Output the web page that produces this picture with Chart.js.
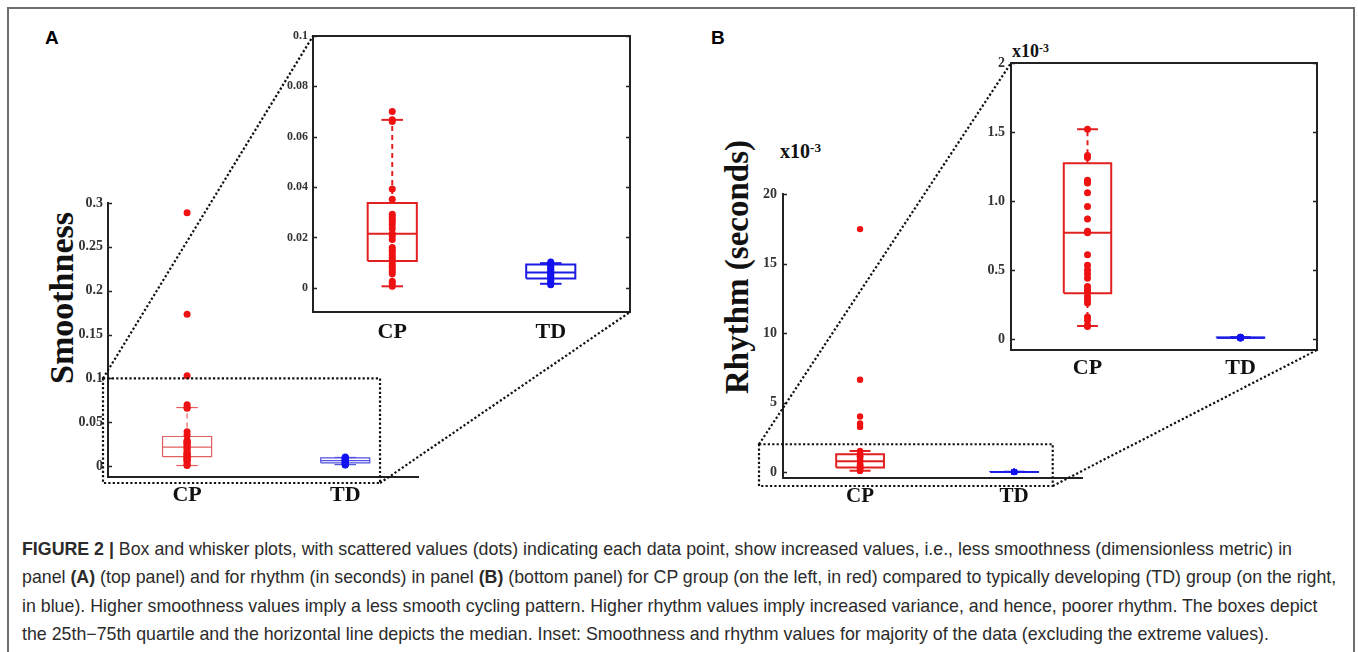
<!DOCTYPE html>
<html><head><meta charset="utf-8">
<script src="https://cdn.jsdelivr.net/npm/chart.js@4.4.1/dist/chart.umd.min.js"></script>
<style>
html,body{margin:0;padding:0;background:#fff;}
body{width:1358px;height:652px;position:relative;overflow:hidden;font-family:"Liberation Sans",Arial,sans-serif;}
#frame{position:absolute;left:7px;top:7px;width:1348px;height:660px;border:2px solid #6e6e6e;box-sizing:border-box;}
canvas.c{position:absolute;}
#overlay{position:absolute;left:0;top:0;z-index:5;pointer-events:none;}
.plab{position:absolute;font:bold 19px "Liberation Sans",Arial,sans-serif;color:#000;line-height:1;}
.ytitle{position:absolute;font-weight:bold;font-family:"Liberation Serif","Times New Roman",serif;color:#111;white-space:nowrap;line-height:1;transform:translate(-50%,-50%) rotate(-90deg);}
.exp{position:absolute;font-weight:bold;font-family:"Liberation Serif","Times New Roman",serif;color:#111;line-height:1;white-space:nowrap;}
.exp span{position:relative;top:-0.45em;font-size:0.66em;}
#caption{position:absolute;left:22px;top:535px;color:#2b2b2b;}
#caption div{white-space:nowrap;height:28.3px;line-height:28.3px;}
</style>
</head><body>
<div id="frame"></div>
<div class="plab" style="left:45px;top:28px;">A</div>
<div class="plab" style="left:711px;top:28px;">B</div>
<div class="ytitle" style="left:62px;top:298px;font-size:34px;">Smoothness</div>
<div class="ytitle" style="left:737px;top:267px;font-size:33px;">Rhythm (seconds)</div>
<div class="exp" style="left:780px;top:141px;font-size:20px;">x10<span>-3</span></div>
<div class="exp" style="left:1012px;top:42px;font-size:18px;">x10<span>-3</span></div>

<canvas class="c" id="mainA" width="370" height="335" style="left:60px;top:180px;"></canvas>
<canvas class="c" id="insetA" width="375" height="330" style="left:270px;top:20px;"></canvas>
<canvas class="c" id="mainB" width="360" height="335" style="left:735px;top:180px;"></canvas>
<canvas class="c" id="insetB" width="370" height="340" style="left:965px;top:45px;"></canvas>
<canvas id="overlay" width="1358" height="652"></canvas>

<div id="caption">
<div><b>FIGURE 2 |</b> Box and whisker plots, with scattered values (dots) indicating each data point, show increased values, i.e., less smoothness (dimensionless metric) in</div>
<div id="longest">panel <b>(A)</b> (top panel) and for rhythm (in seconds) in panel <b>(B)</b> (bottom panel) for CP group (on the left, in red) compared to typically developing (TD) group (on the right,</div>
<div>in blue). Higher smoothness values imply a less smooth cycling pattern. Higher rhythm values imply increased variance, and hence, poorer rhythm. The boxes depict</div>
<div>the 25th−75th quartile and the horizontal line depicts the median. Inset: Smoothness and rhythm values for majority of the data (excluding the extreme values).</div>
</div>

<script>
// ---------------- DATA ----------------
const categories = ['CP', 'TD'];

// Panel A: smoothness (dimensionless)
const smoothCP = [0.289, 0.173, 0.103, 0.070, 0.0667, 0.0660, 0.0392, 0.0352, 0.0292, 0.0282, 0.0272,
  0.0262, 0.0250, 0.0236, 0.0216, 0.0206, 0.0192, 0.0160, 0.0150, 0.0142, 0.0130, 0.0120, 0.0110,
  0.0096, 0.0086, 0.0076, 0.0066, 0.0056, 0.0026, 0.0016, 0.0006];
const smoothTD = [0.0103, 0.0098, 0.0092, 0.0085, 0.0078, 0.0072, 0.0065, 0.0058, 0.0052, 0.0045,
  0.0038, 0.0030, 0.0022, 0.0016, 0.0012];
// [lower whisker, Q1, median, Q3, upper whisker]
const smoothCPBox = [0.0006, 0.0107, 0.0215, 0.0337, 0.0667];
const smoothTDBox = [0.0016, 0.0037, 0.0061, 0.0093, 0.0098];
const smoothMainTicks = [0, 0.05, 0.1, 0.15, 0.2, 0.25, 0.3];
const smoothMainTickLabels = ['0', '0.05', '0.1', '0.15', '0.2', '0.25', '0.3'];
const smoothInsetTicks = [0, 0.02, 0.04, 0.06, 0.08, 0.1];
const smoothInsetTickLabels = ['0', '0.02', '0.04', '0.06', '0.08', '0.1'];

// Panel B: rhythm (x10^-3 seconds)
const rhythmCP = [17.5, 6.65, 4.0, 3.5, 3.25, 1.52, 1.33, 1.315, 1.15, 1.14, 1.13, 1.06, 0.96, 0.87,
  0.78, 0.77, 0.61, 0.535, 0.50, 0.47, 0.44, 0.38, 0.36, 0.34, 0.31, 0.285, 0.26, 0.16, 0.135, 0.10, 0.09];
const rhythmTD = [0.012, 0.010, 0.009, 0.008, 0.011, 0.007, 0.010, 0.009, 0.013, 0.008];
const rhythmCPBox = [0.094, 0.331, 0.770, 1.273, 1.52];
const rhythmTDBox = [0.007, 0.008, 0.0095, 0.011, 0.013];
const rhythmMainTicks = [0, 5, 10, 15, 20];
const rhythmMainTickLabels = ['0', '5', '10', '15', '20'];
const rhythmInsetTicks = [0, 0.5, 1, 1.5, 2];
const rhythmInsetTickLabels = ['0', '0.5', '1.0', '1.5', '2'];

// ---------------- STYLE ----------------
const SERIF = '"Liberation Serif","Times New Roman",serif';
const RED_DOT = 'rgb(238,18,18)', RED_LINE = 'rgb(226,32,32)', RED_LIGHT = 'rgb(226,95,95)';
const BLUE_DOT = 'rgb(18,18,240)', BLUE_LINE = 'rgb(28,28,228)', BLUE_LIGHT = 'rgb(80,80,225)';
const BOX_HALF = 0.155, CAP_HALF = 0.068;

function dotSet(xPos, vals, color, r, clip) {
  return { type: 'scatter', data: vals.map(v => ({ x: xPos, y: v })), pointRadius: r,
    pointBackgroundColor: color, pointBorderWidth: 0, pointHoverRadius: r, showLine: false, clip: clip };
}
function boxSets(xPos, box, color, lw, clip) {
  const [lo, q1, med, q3, hi] = box;
  const base = { type: 'scatter', showLine: true, pointRadius: 0, pointHoverRadius: 0, borderColor: color,
    borderWidth: lw, fill: false, tension: 0, borderJoinStyle: 'miter', borderCapStyle: 'butt', clip: clip };
  const dash = [5, 4];
  return [
    { ...base, data: [{ x: xPos - BOX_HALF, y: q1 }, { x: xPos + BOX_HALF, y: q1 }, { x: xPos + BOX_HALF, y: q3 },
      { x: xPos - BOX_HALF, y: q3 }, { x: xPos - BOX_HALF, y: q1 }] },
    { ...base, data: [{ x: xPos - BOX_HALF, y: med }, { x: xPos + BOX_HALF, y: med }] },
    { ...base, borderDash: dash, data: [{ x: xPos, y: q3 }, { x: xPos, y: hi }] },
    { ...base, borderDash: dash, data: [{ x: xPos, y: lo }, { x: xPos, y: q1 }] },
    { ...base, data: [{ x: xPos - CAP_HALF, y: hi }, { x: xPos + CAP_HALF, y: hi }] },
    { ...base, data: [{ x: xPos - CAP_HALF, y: lo }, { x: xPos + CAP_HALF, y: lo }] }
  ];
}

const inTicks = {
  id: 'inTicks',
  afterDraw(chart, args, opts) {
    const { ctx, chartArea: a } = chart;
    const ys = chart.scales.y;
    ctx.save();
    ctx.strokeStyle = '#222';
    if (opts.frame) {
      ctx.lineWidth = 2;
      ctx.strokeRect(a.left, a.top, a.right - a.left, a.bottom - a.top);
    }
    ctx.lineWidth = 1.5;
    ys.ticks.forEach(t => {
      const py = Math.round(ys.getPixelForValue(t.value)) + 0.5;
      ctx.beginPath();
      ctx.moveTo(a.left, py); ctx.lineTo(a.left + opts.len, py);
      if (opts.right) { ctx.moveTo(a.right, py); ctx.lineTo(a.right - opts.len, py); }
      ctx.stroke();
    });
    ctx.restore();
  }
};

function makeChart(id, cfg) {
  const datasets = [
    dotSet(1, cfg.cp, RED_DOT, cfg.r, cfg.clip),
    dotSet(2, cfg.td, BLUE_DOT, cfg.r, cfg.clip),
    ...boxSets(1, cfg.cpBox, cfg.redLine, cfg.lw, cfg.clip),
    ...boxSets(2, cfg.tdBox, cfg.blueLine, cfg.lw, cfg.clip)
  ];
  return new Chart(document.getElementById(id), {
    type: 'scatter',
    data: { datasets },
    plugins: [inTicks],
    options: {
      responsive: false, animation: false, devicePixelRatio: 1,
      layout: { padding: { top: cfg.padTop, right: cfg.padRight, left: 0, bottom: 0 } },
      plugins: { legend: { display: false }, tooltip: { enabled: false },
        inTicks: { len: 4, right: cfg.frame, frame: cfg.frame } },
      scales: {
        x: {
          type: 'linear', min: 0.5, max: cfg.xMax,
          afterBuildTicks: s => { s.ticks = categories.map((c, i) => ({ value: i + 1 })); },
          afterFit: s => { s.height = cfg.xH; },
          grid: { display: false, drawTicks: false },
          border: { display: true, color: '#222', width: 2 },
          ticks: { callback: (v) => categories[v - 1], padding: cfg.xPad, color: '#111',
            font: { family: SERIF, size: cfg.catSize, weight: 'bold' }, maxRotation: 0, autoSkip: false }
        },
        y: {
          type: 'linear', min: cfg.yMin, max: cfg.yMax,
          afterBuildTicks: s => { s.ticks = cfg.ticks.map(v => ({ value: v })); },
          afterFit: s => { s.width = cfg.yW; },
          grid: { display: false, drawTicks: false },
          border: { display: true, color: '#222', width: 2 },
          ticks: { callback: (v, i) => cfg.tickLabels[i], padding: cfg.yPad, color: '#333',
            font: { family: SERIF, size: cfg.tickSize, weight: 'bold' }, autoSkip: false }
        }
      }
    }
  });
}

const mainA = makeChart('mainA', {
  cp: smoothCP, td: smoothTD, cpBox: smoothCPBox, tdBox: smoothTDBox,
  ticks: smoothMainTicks, tickLabels: smoothMainTickLabels, yMin: -0.0125, yMax: 0.3, xMax: 2.46,
  r: 3.5, lw: 1.2, redLine: RED_LIGHT, blueLine: BLUE_LIGHT, frame: false, clip: undefined,
  padTop: 23, padRight: 12, yW: 48, xH: 38, xPad: 5, yPad: 5, tickSize: 14, catSize: 22
});
const insetA = makeChart('insetA', {
  cp: smoothCP, td: smoothTD, cpBox: smoothCPBox, tdBox: smoothTDBox,
  ticks: smoothInsetTicks, tickLabels: smoothInsetTickLabels, yMin: -0.0096, yMax: 0.1, xMax: 2.5,
  r: 3.5, lw: 2, redLine: RED_LINE, blueLine: BLUE_LINE, frame: true, clip: 0,
  padTop: 16, padRight: 15, yW: 43, xH: 38, xPad: 7, yPad: 5, tickSize: 12, catSize: 22
});
const mainB = makeChart('mainB', {
  cp: rhythmCP, td: rhythmTD, cpBox: rhythmCPBox, tdBox: rhythmTDBox,
  ticks: rhythmMainTicks, tickLabels: rhythmMainTickLabels, yMin: -0.43, yMax: 20, xMax: 2.44,
  r: 3.2, lw: 2, redLine: RED_LINE, blueLine: BLUE_LINE, frame: false, clip: undefined,
  padTop: 12, padRight: 13, yW: 48, xH: 37, xPad: 6, yPad: 6, tickSize: 14, catSize: 21
});
const insetB = makeChart('insetB', {
  cp: rhythmCP, td: rhythmTD, cpBox: rhythmCPBox, tdBox: rhythmTDBox,
  ticks: rhythmInsetTicks, tickLabels: rhythmInsetTickLabels, yMin: -0.08, yMax: 2, xMax: 2.5,
  r: 3.5, lw: 2, redLine: RED_LINE, blueLine: BLUE_LINE, frame: true, clip: 0,
  padTop: 18, padRight: 18, yW: 46, xH: 35, xPad: 5, yPad: 6, tickSize: 14, catSize: 22
});

// ---------------- ZOOM INDICATORS (dotted rect + connector lines) ----------------
function off(ch) { const c = ch.canvas; return { x: c.offsetLeft, y: c.offsetTop }; }
function zoomLinks(ctx, main, inset, leftGap, rightVal, bottomGap) {
  const om = off(main), oi = off(inset);
  const a = main.chartArea, ia = inset.chartArea;
  const L = om.x + a.left - leftGap;
  const R = om.x + main.scales.x.getPixelForValue(rightVal);
  const T = om.y + main.scales.y.getPixelForValue(inset.scales.y.max);
  const B = om.y + a.bottom + bottomGap;
  ctx.strokeRect(L, T, R - L, B - T);
  ctx.beginPath();
  ctx.moveTo(L, T); ctx.lineTo(oi.x + ia.left, oi.y + ia.top);
  ctx.moveTo(R, B); ctx.lineTo(oi.x + ia.right, oi.y + ia.bottom);
  ctx.stroke();
}
const octx = document.getElementById('overlay').getContext('2d');
octx.strokeStyle = '#111';
octx.lineWidth = 2.2;
octx.setLineDash([2.2, 2.2]);
zoomLinks(octx, mainA, insetA, 5, 2.22, 6);
zoomLinks(octx, mainB, insetB, 24, 2.25, 8);

// ---------------- caption fit ----------------
(function () {
  const cap = document.getElementById('caption');
  cap.style.fontSize = '16px';
  const line = document.getElementById('longest');
  const span = document.createElement('span');
  span.innerHTML = line.innerHTML;
  line.innerHTML = '';
  line.appendChild(span);
  const sw = span.getBoundingClientRect().width;
  cap.style.fontSize = (16 * 1315 / sw).toFixed(2) + 'px';
})();
</script>
</body></html>
